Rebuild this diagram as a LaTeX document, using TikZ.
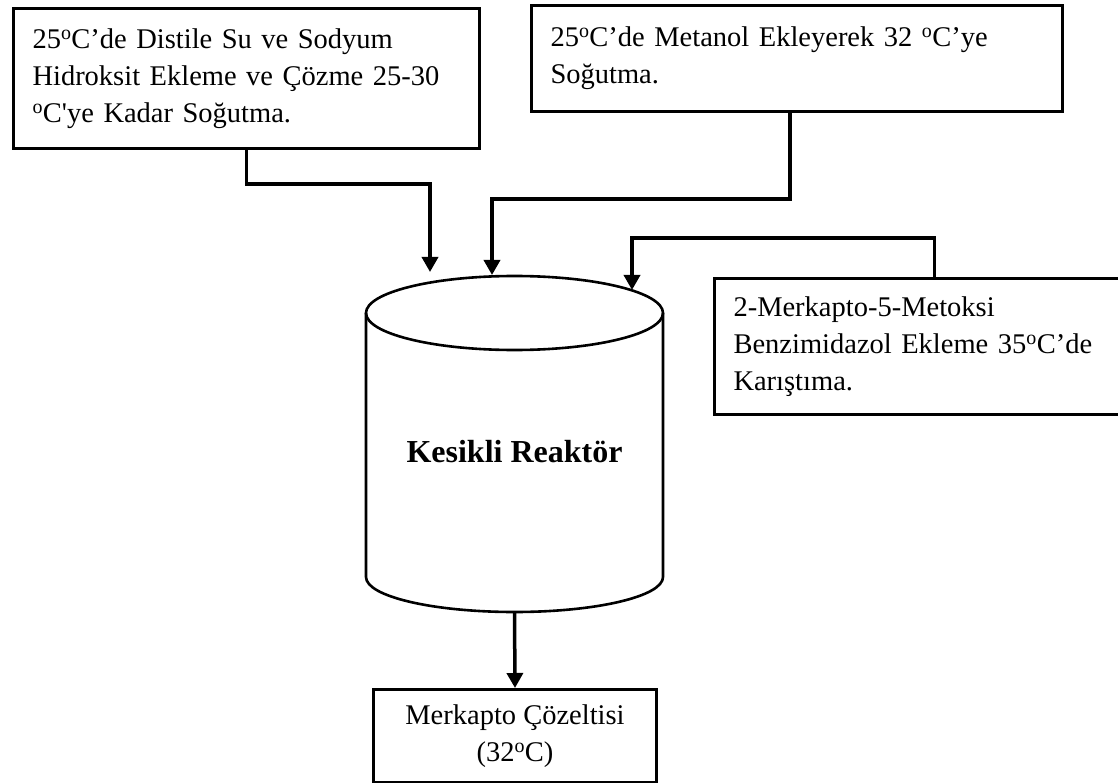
\documentclass[tikz,border=0pt]{standalone}
\usepackage{fontspec}
\setmainfont{Liberation Serif}
\usetikzlibrary{arrows.meta}

\newcommand{\degO}{\textsuperscript{o}}

\begin{document}
\begin{tikzpicture}[x=1pt,y=-1pt,
  txt/.style={font=\fontsize{28.5pt}{37pt}\selectfont},
  stepbox/.style={txt,draw,line width=3pt,align=left,inner xsep=19pt,inner ysep=0pt,anchor=north west},
  flow/.style={line width=3.5pt,line join=miter,-{Triangle[width=16pt,length=15pt]}},
  vessel/.style={line width=2.6pt}
]
\useasboundingbox (0,0) rectangle (1118,783);
\fill[white] (0,0) rectangle (1118,783);
\clip (0,0) rectangle (1118,783);

% feed boxes
\node[stepbox,text width=428pt,minimum height=140pt] (feedA) at (12,7)
  {25\degO C’de Distile Su ve Sodyum\\Hidroksit Ekleme ve Çözme 25-30\\\degO C\textquotesingle ye Kadar Soğutma.};
\node[stepbox,text width=493pt,minimum height=106pt] (feedB) at (530,4)
  {25\degO C’de Metanol Ekleyerek 32 \degO C’ye\\Soğutma.};
\node[stepbox,text width=402pt,minimum height=136pt] (feedC) at (713,277)
  {2-Merkapto-5-Metoksi\\Benzimidazol Ekleme 35\degO C’de\\Karıştıma.};

% batch reactor (vertical cylinder); y grows downward, so the lower
% half of the bottom ellipse runs from 180 down to 0 degrees
\draw[vessel,fill=white] (514.5,313) ellipse [x radius=148.5, y radius=37];
\draw[vessel] (366,313) -- (366,577) arc [start angle=180, end angle=0, x radius=148.5, y radius=35] -- (663,313);
\node[font=\fontsize{32pt}{38pt}\selectfont\bfseries,anchor=base] (reactor) at (514.5,462) {Kesikli Reaktör};

\coordinate (inA) at (430,272);
\coordinate (inB) at (492,275);
\coordinate (inC) at (632,290);
\coordinate (outlet) at (514.5,612);

% product box
\node[txt,draw,line width=3pt,align=center,minimum width=283pt,minimum height=93pt,inner sep=0pt,anchor=north west] (product) at (372,688)
  {Merkapto Çözeltisi\\(32\degO C)};

% connectors
\draw[flow] (feedA.south) -- ++(0,34) -| (inA);
\draw[flow] ([xshift=-7pt]feedB.south) -- ++(0,86) -| (inB);
\draw[flow] (feedC.north) -- ++(0,-39) -| (inC);
\draw[flow] (outlet) -- (product.north);
\end{tikzpicture}
\end{document}
